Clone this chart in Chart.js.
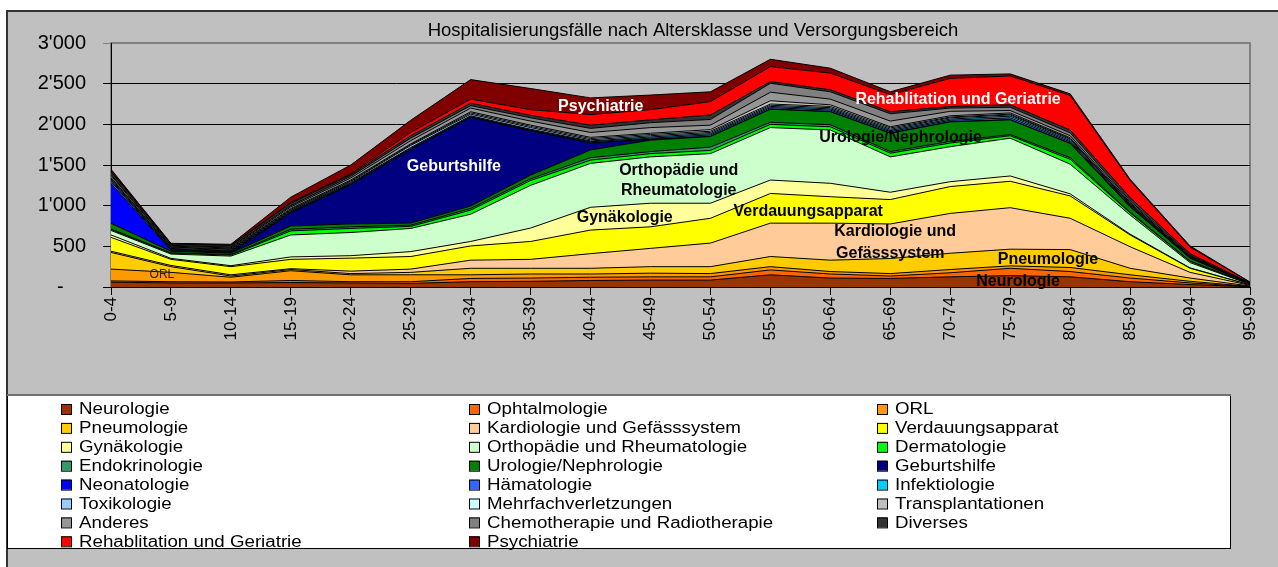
<!DOCTYPE html>
<html><head><meta charset="utf-8">
<script src="https://cdn.jsdelivr.net/npm/chart.js@4"></script>
<style>html,body{margin:0;padding:0;background:#fff}#c{display:block}</style>
</head><body>
<canvas id="c" width="1278" height="567"></canvas>
<script>
const categories = ['0-4','5-9','10-14','15-19','20-24','25-29','30-34','35-39','40-44','45-49','50-54','55-59','60-64','65-69','70-74','75-79','80-84','85-89','90-94','95-99'];

const neurologie        = [60,50,50,55,50,45,65,70,80,85,85,150,110,105,125,140,125,65,30,3];
const ophtalmologie     = [15,15,12,25,15,20,40,40,40,40,40,60,50,30,50,90,65,45,20,2];
const orl               = [145,115,58,120,85,85,45,50,40,45,40,40,30,30,40,30,50,40,20,2];
const pneumologie       = [205,70,15,15,15,30,80,70,70,80,85,125,140,185,200,205,220,80,40,5];
const kardiologie       = [15,15,15,10,30,40,100,110,180,225,290,410,455,425,490,510,385,265,70,8];
const verdauung         = [170,75,100,115,160,155,175,220,290,265,305,365,325,300,330,325,275,145,50,5];
const gynaekologie      = [30,12,12,30,30,60,55,165,280,290,185,165,165,90,60,65,25,10,5,1];
const orthopaedie       = [55,53,118,270,285,285,335,525,540,570,610,645,655,435,430,465,365,235,65,6];
const dermatologie      = [12,10,12,50,50,25,50,60,40,40,40,40,40,45,45,30,60,25,15,2];
const endokrinologie    = [6,5,6,20,20,15,20,20,30,25,40,25,25,20,20,15,20,10,5,1];
const urologie          = [70,20,17,40,35,25,30,45,95,140,130,160,160,225,240,180,175,65,35,3];
const geburtshilfe      = [0,0,5,160,480,905,1090,545,85,10,0,0,0,0,0,0,0,0,0,0];
const neonatologie      = [490,10,8,5,7,5,3,3,2,2,2,2,2,2,2,2,2,1,1,0];
const haematologie      = [27,8,8,10,10,10,7,7,13,13,18,18,18,18,18,23,18,9,4,1];
const infektiologie     = [15,8,8,10,10,10,10,10,10,15,15,15,15,15,15,20,15,10,4,1];
const toxikologie       = [13,8,8,10,13,25,20,20,15,15,15,15,15,15,15,15,15,10,4,1];
const mehrfach          = [12,10,10,10,10,10,15,15,15,15,15,15,15,15,10,10,10,5,3,1];
const transplantationen = [7,6,6,10,10,10,15,15,15,15,20,40,20,15,15,15,10,5,3,1];
const anderes           = [24,12,12,20,25,40,45,50,60,70,55,105,70,70,55,30,25,15,6,2];
const chemotherapie     = [13,10,10,15,20,30,30,40,50,60,70,110,90,90,40,40,35,20,10,2];
const diverses          = [31,16,20,30,20,30,30,30,40,35,55,20,25,25,20,30,35,40,20,3];
const rehabilitation    = [12,4,5,10,10,40,50,70,130,125,165,185,205,210,345,355,425,210,80,8];
const psychiatrie       = [21,5,10,65,110,150,240,260,205,180,120,90,60,35,40,25,20,15,15,3];

const seriesNames = ['Neurologie','Ophtalmologie','ORL','Pneumologie','Kardiologie und Gefässsystem','Verdauungsapparat','Gynäkologie','Orthopädie und Rheumatologie','Dermatologie','Endokrinologie','Urologie/Nephrologie','Geburtshilfe','Neonatologie','Hämatologie','Infektiologie','Toxikologie','Mehrfachverletzungen','Transplantationen','Anderes','Chemotherapie und Radiotherapie','Diverses','Rehablitation und Geriatrie','Psychiatrie'];
const seriesValues = [neurologie,ophtalmologie,orl,pneumologie,kardiologie,verdauung,gynaekologie,orthopaedie,dermatologie,endokrinologie,urologie,geburtshilfe,neonatologie,haematologie,infektiologie,toxikologie,mehrfach,transplantationen,anderes,chemotherapie,diverses,rehabilitation,psychiatrie];
const yTicks = [0,500,1000,1500,2000,2500,3000];
const chartTitle = 'Hospitalisierungsfälle nach Altersklasse und Versorgungsbereich';

// styles
const colors = ['#993300','#FF6600','#FF9900','#FFCC00','#FFCC99','#FFFF00','#FFFF99','#CCFFCC','#00FF00','#339966','#008000','#000080','#0000FF','#3366FF','#00CCFF','#99CCFF','#CCFFFF','#C0C0C0','#969696','#808080','#333333','#FF0000','#800000'];
const FONT = '"Liberation Sans", Arial, sans-serif';
// in-chart labels: anchored in data units (category index, value)
const areaLabels = [
  {t:'Geburtshilfe', i:5.72, v:1476, c:'#fff'},
  {t:'Psychiatrie', i:8.17, v:2214, c:'#fff'},
  {t:'Rehablitation und Geriatrie', i:14.13, v:2300, c:'#fff'},
  {t:'Urologie/Nephrologie', i:13.17, v:1833, c:'#000'},
  {t:'Orthopädie und', i:9.47, v:1427, c:'#000'},
  {t:'Rheumatologie', i:9.47, v:1181, c:'#000'},
  {t:'Gynäkologie', i:8.57, v:849, c:'#000'},
  {t:'Verdauungsapparat', i:11.63, v:922, c:'#000'},
  {t:'Kardiologie und', i:13.08, v:676, c:'#000'},
  {t:'Gefässsystem', i:13.0, v:406, c:'#000'},
  {t:'Pneumologie', i:15.63, v:332, c:'#000'},
  {t:'Neurologie', i:15.13, v:61, c:'#000'},
  {t:'ORL', i:0.85, v:148, c:'#222', small:true}
];

function fmt(v){
  if (v === 0) return '-\u2007\u2007';
  if (v >= 1000) { const r = v % 1000; return Math.floor(v/1000) + "'" + String(r).padStart(3,'0'); }
  return String(v);
}

function stretchedText(ctx, text, x, y, sx){
  ctx.save(); ctx.translate(x, y); ctx.scale(sx, 1); ctx.fillText(text, 0, 0); ctx.restore();
}

const framePlugin = {
  id:'frame',
  beforeDraw(chart){
    const {ctx, width:W, height:H, chartArea:ca} = chart;
    ctx.save();
    ctx.fillStyle = '#fff'; ctx.fillRect(0,0,W,H);
    ctx.fillStyle = '#C0C0C0'; ctx.fillRect(7,10,W-7,H-10);
    ctx.strokeStyle = '#333'; ctx.lineWidth = 2;
    ctx.beginPath(); ctx.moveTo(6,11); ctx.lineTo(W,11); ctx.moveTo(7,10); ctx.lineTo(7,H); ctx.stroke();
    ctx.strokeStyle = '#808080'; ctx.lineWidth = 2;
    ctx.strokeRect(ca.left, ca.top, ca.right-ca.left, ca.bottom-ca.top);
    // title
    ctx.fillStyle = '#000'; ctx.font = '18.5px ' + FONT;
    ctx.textAlign = 'center'; ctx.textBaseline = 'middle';
    ctx.fillText(chartTitle, 693, 31);
    ctx.restore();
  },
  afterDatasetsDraw(chart){
    const {ctx, scales:{x,y}} = chart;
    ctx.save();
    ctx.textAlign = 'center'; ctx.textBaseline = 'middle';
    for (const a of areaLabels){
      ctx.font = a.small ? ('12px ' + FONT) : ('bold 16px ' + FONT);
      ctx.fillStyle = a.c;
      ctx.fillText(a.t, x.getPixelForValue(a.i), y.getPixelForValue(a.v));
    }
    ctx.restore();
  },
  afterDraw(chart){
    const {ctx} = chart;
    ctx.save();
    const L = 7, T = 395, R = 1231, B = 549;
    ctx.fillStyle = '#fff'; ctx.fillRect(L,T,R-L,B-T);
    ctx.strokeStyle = '#000'; ctx.lineWidth = 1;
    ctx.strokeRect(L+0.5,T+0.5,R-L-1,B-T-1);
    ctx.strokeStyle = '#707070'; ctx.lineWidth = 2;
    ctx.beginPath(); ctx.moveTo(L,T); ctx.lineTo(R,T); ctx.stroke();
    const colX = [61,469,877];
    ctx.font = '16px ' + FONT; ctx.textBaseline = 'middle'; ctx.textAlign = 'left';
    chart.data.datasets.forEach((ds,i)=>{
      const cx = colX[i%3], cy = 409 + Math.floor(i/3)*18.9;
      ctx.fillStyle = ds.backgroundColor; ctx.fillRect(cx, cy-5, 10, 10);
      ctx.strokeStyle = '#000'; ctx.lineWidth = 1; ctx.strokeRect(cx+0.5, cy-4.5, 10, 10);
      ctx.fillStyle = '#000'; stretchedText(ctx, ds.label, cx+18, cy+1, 1.17);
    });
    ctx.restore();
  }
};

Chart.defaults.font.family = FONT;
new Chart(document.getElementById('c'), {
  type:'line',
  data:{
    labels: categories,
    datasets: seriesValues.map((vals,i)=>({
      label: seriesNames[i], data: vals,
      fill: i===0 ? 'origin' : '-1',
      backgroundColor: colors[i], borderColor:'#000', borderWidth:1,
      pointRadius:0, pointHoverRadius:0, tension:0
    }))
  },
  options:{
    responsive:false, devicePixelRatio:1, animation:false,
    layout:{padding:{left:0,right:28,top:43,bottom:180}},
    plugins:{ legend:{display:false}, tooltip:{enabled:false}, title:{display:false} },
    scales:{
      x:{type:'category', offset:false,
        grid:{drawOnChartArea:false, drawTicks:true, tickLength:8, color:'#000'},
        border:{color:'#000', width:1},
        ticks:{minRotation:90, maxRotation:90, autoSkip:false, color:'#000', font:{size:17}, padding:2},
        afterFit(s){ s.height = 100; }
      },
      y:{stacked:true, min:0, max:3000,
        afterBuildTicks(s){ s.ticks = yTicks.map(v=>({value:v})); },
        ticks:{color:'#000', font:{size:20}, padding:17, callback:(v)=>fmt(v)},
        grid:{color:(c)=> c.tick && c.tick.value===3000 ? '#808080' : '#000', tickLength:8, drawTicks:true},
        border:{color:'#000', width:1},
        afterFit(s){ s.width = 111; }
      }
    }
  },
  plugins:[framePlugin]
});
</script>
</body></html>
